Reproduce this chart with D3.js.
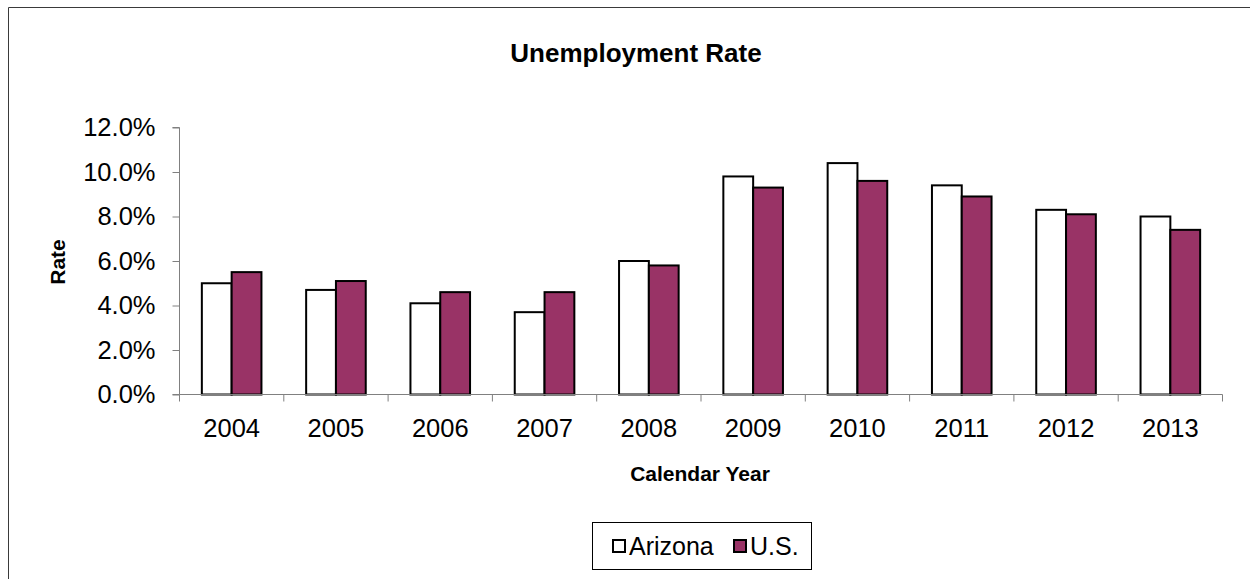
<!DOCTYPE html>
<html>
<head>
<meta charset="utf-8">
<script src="https://cdn.jsdelivr.net/npm/d3@7"></script>
<style>
  html, body { margin: 0; padding: 0; background: #fff; }
  svg { display: block; font-family: Arial, "Liberation Sans", sans-serif; }
</style>
</head>
<body>
<svg id="chart" width="1250" height="579"></svg>
<script>
// Calendar years and annual unemployment rates (%)
const years = ["2004", "2005", "2006", "2007", "2008", "2009", "2010", "2011", "2012", "2013"];
const arizona = [5.0, 4.7, 4.1, 3.7, 6.0, 9.8, 10.4, 9.4, 8.3, 8.0];
const us = [5.5, 5.1, 4.6, 4.6, 5.8, 9.3, 9.6, 8.9, 8.1, 7.4];
const seriesNames = ["Arizona", "U.S."];
const yTicks = [0, 2, 4, 6, 8, 10, 12];

const seriesColors = ["#ffffff", "#993366"];
const svg = d3.select("#chart");

// Outer chart frame
svg.append("path")
  .attr("d", "M8.5,580 L8.5,7.5 L1250,7.5")
  .attr("fill", "none")
  .attr("stroke", "#3a3a3a")
  .attr("stroke-width", 1);

const plot = { left: 179.5, right: 1222.5, top: 127.5, bottom: 394.5 };

const x = d3.scaleBand().domain(years).range([plot.left, plot.right]).paddingInner(0).paddingOuter(0);
const y = d3.scaleLinear().domain([0, 12]).range([plot.bottom, plot.top]);

// Each group holds two bars; the gap between groups is 150% of one bar
const barW = x.bandwidth() / 3.5;
const xs = d3.scaleBand().domain(seriesNames)
  .range([x.bandwidth() / 2 - barW, x.bandwidth() / 2 + barW]);

const rows = years.map((yr, i) => ({ year: yr, values: [arizona[i], us[i]] }));

const groups = svg.append("g").selectAll("g")
  .data(rows).join("g")
  .attr("transform", d => `translate(${x(d.year)},0)`);

groups.selectAll("rect")
  .data(d => d.values.map((v, k) => ({ name: seriesNames[k], v, k })))
  .join("rect")
  .attr("x", d => xs(d.name))
  .attr("y", d => y(d.v))
  .attr("width", xs.bandwidth())
  .attr("height", d => y(0) - y(d.v))
  .attr("fill", d => seriesColors[d.k])
  .attr("stroke", "#000")
  .attr("stroke-width", 2);

// Y axis
const yAxis = svg.append("g")
  .attr("transform", `translate(${plot.left},0)`)
  .call(d3.axisLeft(y).tickValues(yTicks).tickFormat(d => d.toFixed(1) + "%").tickSize(7).tickPadding(17));
yAxis.select(".domain").attr("stroke", "#808080").attr("d", `M-7,${plot.top}H0V${plot.bottom}H-7`);
yAxis.selectAll(".tick line").attr("stroke", "#808080");
yAxis.selectAll(".tick text").attr("font-size", 25.5).attr("fill", "#000")
  .attr("font-family", "Arial, 'Liberation Sans', sans-serif");

// X axis with ticks at group boundaries
const xAxis = svg.append("g")
  .attr("transform", `translate(0,${plot.bottom})`);
xAxis.append("line")
  .attr("x1", plot.left).attr("x2", plot.right)
  .attr("stroke", "#808080");
const boundaries = years.map(yr => x(yr)).concat([x(years[years.length - 1]) + x.bandwidth()]);
xAxis.selectAll("line.tk").data(boundaries).join("line")
  .attr("class", "tk")
  .attr("x1", d => d).attr("x2", d => d)
  .attr("y1", 0).attr("y2", 7)
  .attr("stroke", "#808080");
xAxis.selectAll("text").data(years).join("text")
  .attr("x", d => x(d) + x.bandwidth() / 2)
  .attr("y", 42)
  .attr("text-anchor", "middle")
  .attr("font-size", 25.5)
  .text(d => d);

// Titles
svg.append("text")
  .attr("x", 636).attr("y", 62)
  .attr("text-anchor", "middle")
  .attr("font-size", 26).attr("font-weight", "bold")
  .text("Unemployment Rate");

svg.append("text")
  .attr("x", 700).attr("y", 481)
  .attr("text-anchor", "middle")
  .attr("font-size", 21).attr("font-weight", "bold")
  .text("Calendar Year");

svg.append("text")
  .attr("transform", "translate(65,262) rotate(-90)")
  .attr("text-anchor", "middle")
  .attr("font-size", 21).attr("font-weight", "bold")
  .text("Rate");

// Legend
const legend = svg.append("g");
legend.append("rect")
  .attr("x", 592.5).attr("y", 522.5).attr("width", 219).attr("height", 47)
  .attr("fill", "#fff").attr("stroke", "#000").attr("stroke-width", 1);
const legendX = [613, 734];
const items = legend.selectAll("g.item").data(seriesNames).join("g")
  .attr("class", "item")
  .attr("transform", (d, i) => `translate(${legendX[i]},0)`);
items.append("rect")
  .attr("x", 0).attr("y", 540).attr("width", 12).attr("height", 12)
  .attr("fill", (d, i) => seriesColors[i])
  .attr("stroke", "#000").attr("stroke-width", 2);
items.append("text")
  .attr("x", 16).attr("y", 555)
  .attr("font-size", 25)
  .text(d => d);
</script>
</body>
</html>
